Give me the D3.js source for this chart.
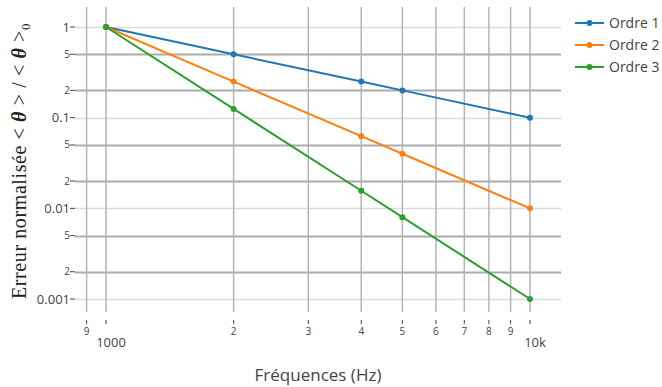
<!DOCTYPE html>
<html><head><meta charset="utf-8">
<script src="https://cdn.jsdelivr.net/npm/d3@7"></script>
<style>body{margin:0;background:#fff}svg{display:block}</style>
</head><body><svg id="c" width="662" height="387"></svg>
<script>
const freqs = [1000, 2000, 4000, 5000, 10000];
const seriesNames = ["Ordre 1", "Ordre 2", "Ordre 3"];
const ordre1 = [1, 0.5, 0.25, 0.2, 0.1];
const ordre2 = [1, 0.25, 0.0625, 0.04, 0.01];
const ordre3 = [1, 0.125, 0.015625, 0.008, 0.001];
const colors = ["#1f77b4", "#ff7f0e", "#2ca02c"];
const xTicks = [900, 1000, 2000, 3000, 4000, 5000, 6000, 7000, 8000, 9000, 10000];
const xTickLabels = ["9", "1000", "2", "3", "4", "5", "6", "7", "8", "9", "10k"];
const yTicks = [0.001, 0.002, 0.005, 0.01, 0.02, 0.05, 0.1, 0.2, 0.5, 1];
const yTickLabels = ["0.001", "2", "5", "0.01", "2", "5", "0.1", "2", "5", "1"];

const svg = d3.select("#c");
const L = 75, R = 561, T = 7, B = 312;
const x = d3.scaleLog().domain([845, 11834]).range([L, R]);
const y = d3.scaleLog().domain([Math.pow(10, -3.143), 1.662]).range([B, T]);
const isMajorY = v => Math.abs(Math.log10(v) - Math.round(Math.log10(v))) < 1e-6;

// grid
const g = svg.append("g");
g.selectAll("line.hy").data(yTicks).join("line")
  .attr("x1", L).attr("x2", R)
  .attr("y1", d => Math.round(y(d)) + 0.5).attr("y2", d => Math.round(y(d)) + 0.5)
  .attr("stroke", d => isMajorY(d) ? "#dcdcdc" : "#ababab")
  .attr("stroke-width", d => isMajorY(d) ? 1.5 : 2);
g.selectAll("line.vx").data(xTicks).join("line")
  .attr("y1", T).attr("y2", B)
  .attr("x1", d => x(d)).attr("x2", d => x(d))
  .attr("stroke", "#b4b4b4").attr("stroke-width", 1.5);

// y axis ticks & labels
const ya = svg.append("g");
ya.selectAll("line").data(yTicks).join("line")
  .attr("x1", 70).attr("x2", L).attr("y1", d => y(d)).attr("y2", d => y(d))
  .attr("stroke", "#444").attr("stroke-width", 1);
ya.selectAll("text").data(yTicks).join("text")
  .attr("x", 70).attr("y", d => y(d)).attr("dy", "0.35em")
  .attr("text-anchor", "end")
  .attr("font-family", "Open Sans, sans-serif")
  .attr("font-size", d => isMajorY(d) ? 13 : 10)
  .attr("fill", "#444")
  .text((d, i) => yTickLabels[i]);

// x axis ticks & labels
const xa = svg.append("g");
xa.selectAll("line").data(xTicks).join("line")
  .attr("x1", d => x(d)).attr("x2", d => x(d)).attr("y1", 320).attr("y2", 324)
  .attr("stroke", "#444").attr("stroke-width", 1);
xa.selectAll("text").data(xTicks).join("text")
  .attr("x", d => x(d) + ((d === 1000 || d === 10000) ? 5 : 0))
  .attr("y", d => (d === 1000 || d === 10000) ? 347 : 335)
  .attr("text-anchor", "middle")
  .attr("font-family", "Open Sans, sans-serif")
  .attr("font-size", d => (d === 1000 || d === 10000) ? 13 : 10)
  .attr("fill", "#444")
  .text((d, i) => xTickLabels[i]);

// lines
const allSeries = [ordre1, ordre2, ordre3];
const line = d3.line().x((d, i) => x(freqs[i])).y(d => y(d));
allSeries.forEach((s, k) => {
  svg.append("path").datum(s).attr("d", line)
    .attr("fill", "none").attr("stroke", colors[k]).attr("stroke-width", 2);
  svg.append("g").selectAll("circle").data(s).join("circle")
    .attr("cx", (d, i) => x(freqs[i])).attr("cy", d => y(d)).attr("r", 3)
    .attr("fill", colors[k]);
});

// legend
const lg = svg.append("g");
seriesNames.forEach((n, k) => {
  const yy = 23 + k * 22;
  lg.append("line").attr("x1", 575).attr("x2", 604).attr("y1", yy).attr("y2", yy)
    .attr("stroke", colors[k]).attr("stroke-width", 2);
  lg.append("circle").attr("cx", 589.5).attr("cy", yy).attr("r", 3).attr("fill", colors[k]);
  lg.append("text").attr("x", 609).attr("y", yy).attr("dy", "0.35em")
    .attr("font-family", "Open Sans, sans-serif").attr("font-size", 14)
    .attr("fill", "#444").text(n);
});

// axis titles
svg.append("text").attr("x", 318).attr("y", 381)
  .attr("text-anchor", "middle").attr("font-family", "Open Sans, sans-serif")
  .attr("font-size", 17).attr("fill", "#444").text("Fréquences (Hz)");

const yt = svg.append("text").attr("transform", "translate(26,161) rotate(-90)")
  .attr("text-anchor", "middle").attr("font-family", "Liberation Serif, serif")
  .attr("font-size", 20).attr("letter-spacing", 0.6).attr("fill", "#222");
yt.append("tspan").text("Erreur normalisée < ");
yt.append("tspan").attr("font-style", "italic").attr("font-weight", "bold").text("θ");
yt.append("tspan").text(" > / < ");
yt.append("tspan").attr("font-style", "italic").attr("font-weight", "bold").text("θ");
yt.append("tspan").text(" >");
yt.append("tspan").attr("font-size", 13).attr("dy", 4).text("0");
</script></body></html>
